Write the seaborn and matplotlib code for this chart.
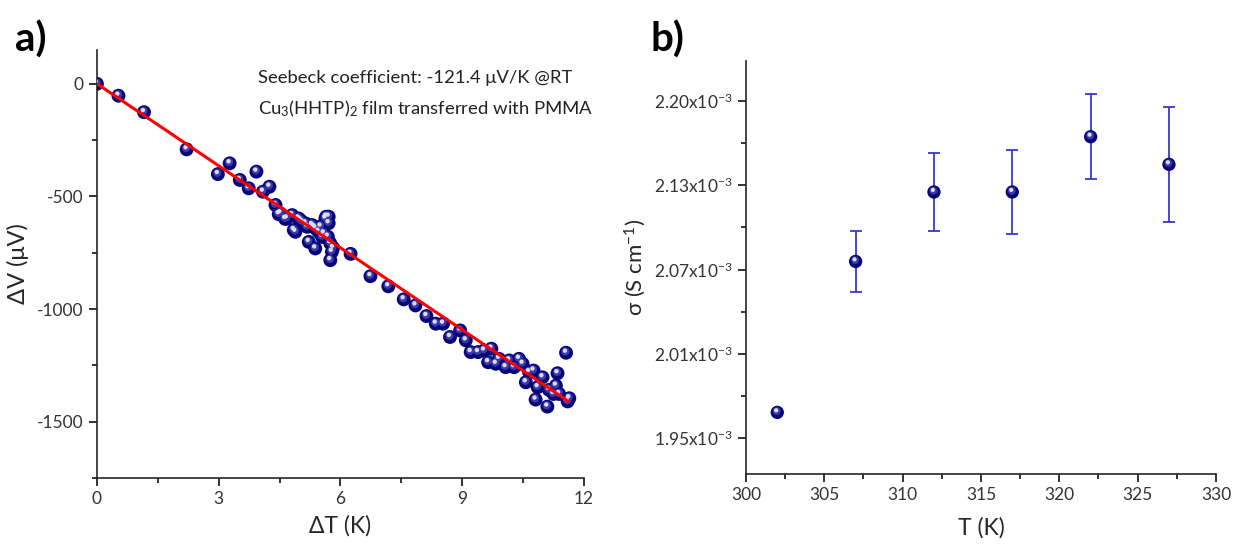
import numpy as np
import matplotlib
matplotlib.use("Agg")
import matplotlib.pyplot as plt
from matplotlib.transforms import offset_copy
from matplotlib.ticker import MultipleLocator, FixedLocator
import seaborn as sns

# panel a: Seebeck measurement
delta_T = [0.00, 0.53, 1.16, 2.21, 2.98, 3.27, 3.52, 3.74, 3.93, 4.09, 4.25,
           4.40, 4.48, 4.52, 4.64, 4.68, 4.81, 4.85, 4.89, 4.97, 5.01,
           5.05, 5.14, 5.18, 5.22, 5.30, 5.35, 5.38, 5.38, 5.46, 5.51,
           5.55, 5.59, 5.63, 5.65, 5.69, 5.71, 5.71, 5.75, 5.75, 5.79, 5.82,
           6.25, 6.74, 7.18, 7.56, 7.85, 8.12, 8.35, 8.53, 8.70,
           8.95, 9.09, 9.21, 9.39, 9.54, 9.64, 9.72, 9.83, 9.91, 10.07,
           10.16, 10.28, 10.40, 10.49, 10.57, 10.65, 10.76, 10.81, 10.86, 10.98,
           11.10, 11.14, 11.25, 11.31, 11.35, 11.39, 11.56, 11.60, 11.64]
delta_V = [0, -53, -126, -291, -401, -353, -427, -464, -390, -479, -457,
           -538, -579, -575, -600, -598, -583, -649, -657, -598, -605,
           -612, -620, -635, -702, -627, -635, -731, -641, -657, -634,
           -680, -664, -598, -590, -679, -590, -619, -708, -783, -746, -728,
           -755, -854, -899, -957, -984, -1031, -1065, -1065, -1124,
           -1095, -1139, -1191, -1191, -1184, -1236, -1176, -1243, -1221, -1258,
           -1228, -1258, -1221, -1243, -1325, -1280, -1273, -1402, -1347, -1303,
           -1433, -1359, -1377, -1340, -1285, -1377, -1194, -1410, -1396]
fit_T = [0.0, 11.62]
fit_V = [0.0, -1410.0]

# panel b: conductivity vs temperature
temp_K = [302, 307, 312, 317, 322, 327]
sigma = [1.969e-3, 2.081e-3, 2.1325e-3, 2.1325e-3, 2.1735e-3, 2.153e-3]
sigma_err = [0.0, 0.0225e-3, 0.029e-3, 0.031e-3, 0.0315e-3, 0.0424e-3]
sigma_ticks = [1.95e-3, 2.0125e-3, 2.075e-3, 2.1375e-3, 2.20e-3]
sigma_tick_labels = ["1.95x10$^{-3}$", "2.01x10$^{-3}$", "2.07x10$^{-3}$",
                     "2.13x10$^{-3}$", "2.20x10$^{-3}$"]

sns.set_style("ticks")
plt.rcParams["font.family"] = ["Lato", "DejaVu Sans"]
plt.rcParams["mathtext.fontset"] = "custom"
plt.rcParams["mathtext.rm"] = "Lato"
plt.rcParams["mathtext.it"] = "Lato:italic"
plt.rcParams["axes.unicode_minus"] = False
plt.rcParams["axes.linewidth"] = 1.2
plt.rcParams["text.color"] = "#222222"

NAVY = "#06067a"
HILITE = "#dcdcf4"


def sphere(ax, fig, x, y, size=100):
    # dark ball + small light spot to mimic the shaded marker
    sns.scatterplot(x=x, y=y, ax=ax, s=size, color=NAVY, edgecolor="none",
                    linewidth=0, zorder=3, legend=False)
    sns.scatterplot(x=x, y=y, ax=ax, s=size * 0.35, color="#3a3aa8",
                    edgecolor="none", linewidth=0, zorder=4, legend=False)
    ax.collections[-1].set_offset_transform(
        offset_copy(ax.transData, fig=fig, x=-0.4, y=0.9, units="points"))
    sns.scatterplot(x=x, y=y, ax=ax, s=size * 0.1, color=HILITE,
                    edgecolor="none", linewidth=0, zorder=5, legend=False)
    ax.collections[-1].set_offset_transform(
        offset_copy(ax.transData, fig=fig, x=-0.8, y=1.5, units="points"))


def style_axis(ax):
    sns.despine(ax=ax)
    ax.tick_params(which="major", direction="out", length=6, width=1.2,
                   labelsize=12.5, colors="#111111", labelcolor="#333333")
    ax.tick_params(which="minor", direction="out", length=3.5, width=1.2,
                   colors="#111111")


fig = plt.figure(figsize=(12.35, 5.44), dpi=100)
ax_a = fig.add_axes([0.0785, 0.1213, 0.3943, 0.7868])
ax_b = fig.add_axes([0.6040, 0.1287, 0.3806, 0.7592])

# ---- panel a
sns.lineplot(x=fit_T, y=fit_V, ax=ax_a, color="#ff0000", linewidth=2.2,
             zorder=6)
sphere(ax_a, fig, delta_T, delta_V)
ax_a.set_xlim(0, 12)
ax_a.set_ylim(-1750, 150)
ax_a.xaxis.set_major_locator(MultipleLocator(3))
ax_a.xaxis.set_minor_locator(MultipleLocator(1.5))
ax_a.yaxis.set_major_locator(MultipleLocator(500))
ax_a.yaxis.set_minor_locator(MultipleLocator(250))
style_axis(ax_a)
ax_a.set_xlabel("ΔT (K)", fontsize=16.5, labelpad=6)
ax_a.set_ylabel("ΔV (μV)", fontsize=17, labelpad=6)
ax_a.text(0.33, 0.935, "Seebeck coefficient: -121.4 μV/K @RT",
          transform=ax_a.transAxes, fontsize=13.3, ha="left", va="center")
ax_a.text(0.33, 0.863, "Cu$_3$(HHTP)$_2$ film transferred with PMMA",
          transform=ax_a.transAxes, fontsize=13.3, ha="left", va="center")
fig.text(0.012, 0.905, "a)", fontsize=29, fontweight="bold", color="black")

# ---- panel b
ax_b.errorbar(temp_K, sigma, yerr=sigma_err, fmt="none", ecolor="#3838c8",
              elinewidth=1.3, capsize=4, capthick=1.3, zorder=2)
sphere(ax_b, fig, temp_K, sigma, size=92)
ax_b.set_xlim(300, 330)
ax_b.set_ylim(1.9233e-3, 2.2297e-3)
ax_b.xaxis.set_major_locator(MultipleLocator(5))
ax_b.xaxis.set_minor_locator(MultipleLocator(2.5))
ax_b.yaxis.set_major_locator(FixedLocator(sigma_ticks))
ax_b.set_yticklabels(sigma_tick_labels)
ax_b.yaxis.set_minor_locator(FixedLocator(
    [(a + b) / 2 for a, b in zip(sigma_ticks[:-1], sigma_ticks[1:])]))
style_axis(ax_b)
ax_b.set_xlabel("T (K)", fontsize=16.5, labelpad=10)
ax_b.set_ylabel("σ (S cm$^{-1}$)", fontsize=16, labelpad=4)
fig.text(0.527, 0.905, "b)", fontsize=29, fontweight="bold", color="black")

fig.savefig("out.png", dpi=100)
